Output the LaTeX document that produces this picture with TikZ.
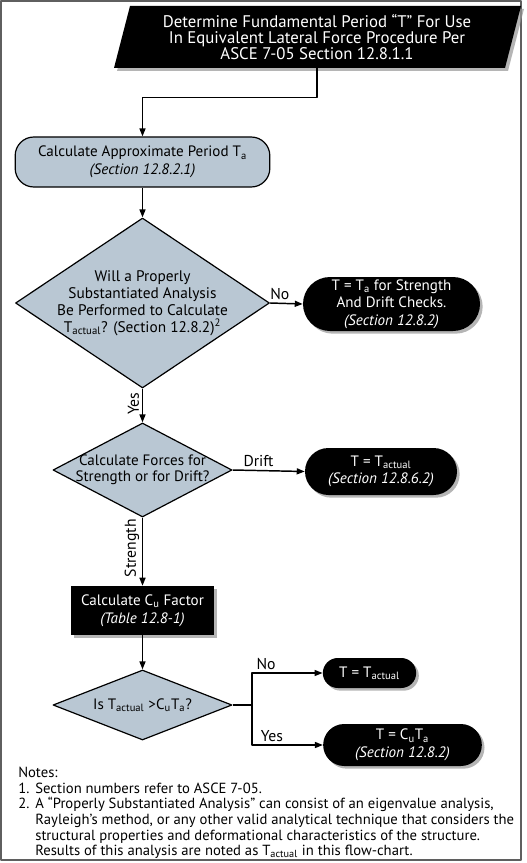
\documentclass[tikz,border=0pt]{standalone}
\usepackage{fontspec}
\setmainfont{PT Sans}
\usetikzlibrary{shapes.geometric,shapes.misc,arrows.meta,shadows}

\definecolor{boxblue}{RGB}{185,199,211}
\definecolor{framegray}{RGB}{95,95,95}
\definecolor{shadowgray}{RGB}{150,150,150}

\tikzset{
	txt/.style={align=center, inner sep=0pt, font=\fontsize{11.3}{13.2}\selectfont},
	lbl/.style={inner sep=2pt, font=\fontsize{11.8}{13}\selectfont},
	procbox/.style={txt, draw=black, line width=0.9pt, fill=boxblue, rounded corners=14pt},
	termbox/.style={txt, rounded rectangle, fill=black, text=white,
		drop shadow={shadow xshift=2pt, shadow yshift=-2pt, fill=shadowgray, opacity=0.7}},
	blackbox/.style={txt, rectangle, fill=black, text=white,
		drop shadow={shadow xshift=2pt, shadow yshift=-2pt, fill=shadowgray, opacity=0.7}},
	decision/.style={diamond, draw=black, line width=0.9pt, fill=boxblue, inner sep=0pt},
	conn/.style={line width=1.1pt},
	arr/.style={conn, -{Triangle[length=6pt,width=4.5pt]}},
}
\newcommand{\sub}[1]{\textsubscript{#1}}
\newcommand{\notenum}[1]{\makebox[12.8pt][l]{#1}}

\begin{document}
\begin{tikzpicture}[x=0.75pt, y=-0.75pt, line join=round]
	\useasboundingbox (0,0) rectangle (527,863);
	\draw[framegray, line width=1.5pt] (1,1) rectangle (521,860);

	% start block
	\fill[shadowgray, opacity=0.7] (117,71) -- (133,9) -- (524,9) -- (508,71) -- cycle;
	\fill[black] (114,68) -- (130,6) -- (521,6) -- (505,68) -- cycle;
	\node[txt, text=white, minimum height=46.5pt, font=\fontsize{12.6}{11.8}\selectfont] (start) at (317,37)
		{Determine Fundamental Period “T” For Use\\In Equivalent Lateral Force Procedure Per\\ASCE 7-05 Section 12.8.1.1};

	\node[procbox, minimum width=191pt, minimum height=37.5pt] (approx) at (142.5,162)
		{Calculate Approximate Period T\sub{a}\\\textit{(Section 12.8.2.1)}};

	\node[decision, minimum width=190.5pt, minimum height=127.5pt] (q1) at (142.5,303) {};
	\node[txt, font=\fontsize{11.5}{12.8}\selectfont] (q1txt) at (q1.center)
		{Will a Properly\\Substantiated Analysis\\Be Performed to Calculate\\T\sub{actual}? (Section 12.8.2)\textsuperscript{2}};
	\node[termbox, minimum width=132.75pt, minimum height=40.5pt] (res1) at (391.5,304)
		{T = T\sub{a} for Strength\\And Drift Checks.\\\textit{(Section 12.8.2)}};

	\node[decision, minimum width=134.25pt, minimum height=70.5pt] (q2) at (142.5,470) {};
	\node[txt, font=\fontsize{11.3}{12}\selectfont] (q2txt) at (q2.center) {Calculate Forces for\\Strength or for Drift?};
	\node[termbox, minimum width=114pt, minimum height=35.25pt] (res2) at (381,471.5)
		{T = T\sub{actual}\\\textit{(Section 12.8.6.2)}};

	\node[blackbox, minimum width=107pt, minimum height=36.75pt] (cu) at (142.5,610.5)
		{Calculate C\sub{u} Factor\\\textit{(Table 12.8-1)}};

	\node[decision, minimum width=134.25pt, minimum height=52.5pt] (q3) at (142.5,705) {};
	\node[txt] (q3txt) at (q3.center) {Is T\sub{actual} >C\sub{u}T\sub{a}?};
	\node[termbox, minimum width=70pt, minimum height=22.5pt] (res4) at (369.5,673) {T = T\sub{actual}};
	\node[termbox, minimum width=119pt, minimum height=31.5pt] (res5) at (402.5,745)
		{T = C\sub{u}T\sub{a}\\\textit{(Section 12.8.2)}};
	\coordinate (split) at (252,705);

	% connectors
	\draw[arr] (start.south) -- +(0,29) -| (approx.north);
	\draw[arr] (approx.south) -- (q1.north);
	\draw[arr] (q1.east) -- node[lbl, above, pos=0.3] {No} (res1.west);
	\draw[arr] (q1.south) -- node[lbl, rotate=90, anchor=south, pos=0.45] {Yes} (q2.north);
	\draw[arr] (q2.east) -- node[lbl, above, pos=0.36] {Drift} (res2.west);
	\draw[arr] (q2.south) -- node[lbl, rotate=90, anchor=south, pos=0.45] {Strength} (cu.north);
	\draw[arr] (cu.south) -- (q3.north);
	\draw[conn] (q3.east) -- (split);
	\draw[arr] (split) |- node[lbl, above, pos=0.6] {No} (res4.west);
	\draw[arr] (split) |- node[lbl, above, pos=0.64] {Yes} (res5.west);

	% notes
	\node[anchor=north west, align=left, inner sep=0pt, font=\fontsize{11}{11.7}\selectfont] (notes) at (18,767)
		{Notes:\\
		\notenum{1.}Section numbers refer to ASCE 7-05.\\
		\notenum{2.}A “Properly Substantiated Analysis” can consist of an eigenvalue analysis,\\
		\hspace*{12.8pt}Rayleigh’s method, or any other valid analytical technique that considers the\\
		\hspace*{12.8pt}structural properties and deformational characteristics of the structure.\\
		\hspace*{12.8pt}Results of this analysis are noted as T\sub{actual} in this flow-chart.};
\end{tikzpicture}
\end{document}
